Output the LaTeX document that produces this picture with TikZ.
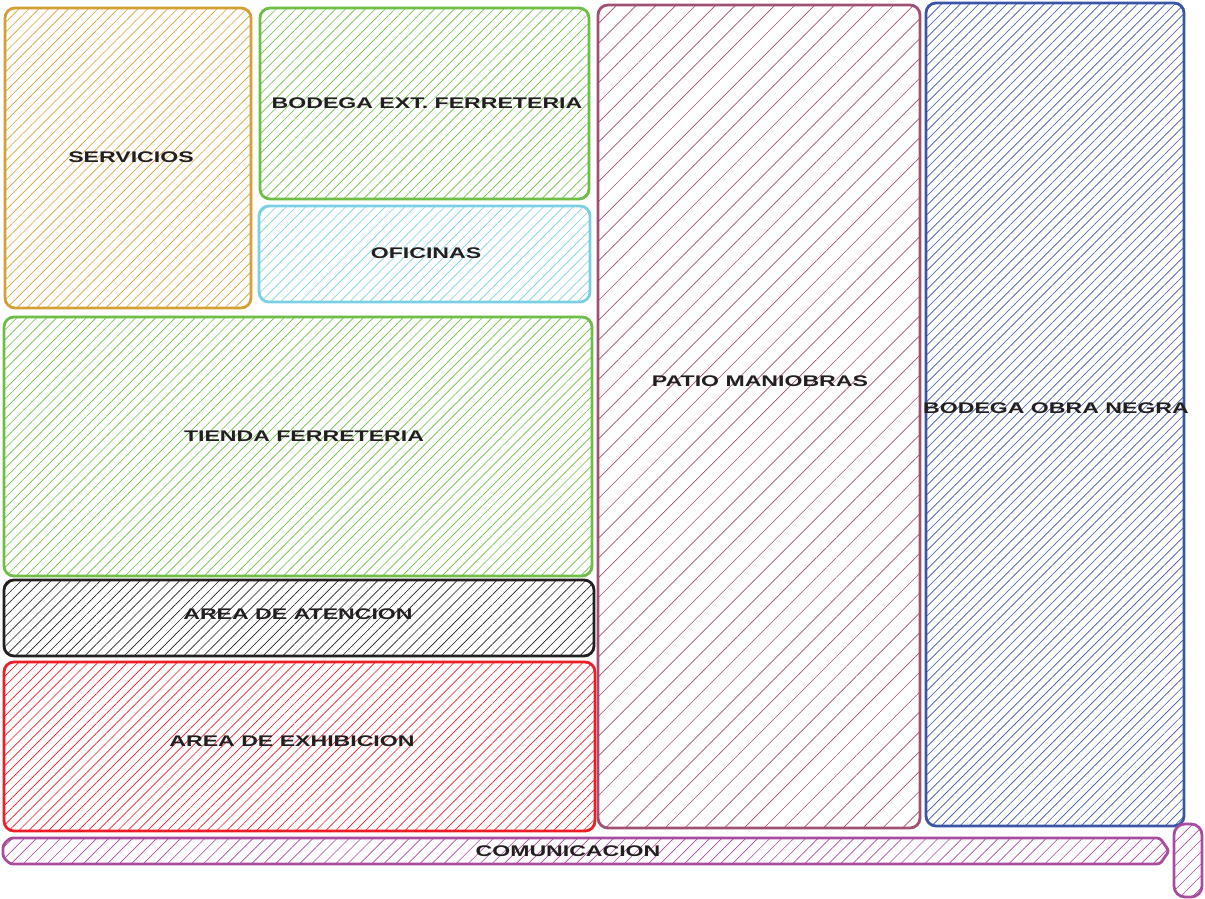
\documentclass[tikz,border=0pt]{standalone}
\usepackage{fontspec}
\setmainfont{Liberation Sans}
\usetikzlibrary{patterns.meta}
\definecolor{cgold}{RGB}{212,160,52}
\definecolor{cgreen}{RGB}{108,190,69}
\definecolor{ccyan}{RGB}{122,208,226}
\definecolor{cblack}{RGB}{35,31,32}
\definecolor{cred}{RGB}{237,30,38}
\definecolor{cmaroon}{RGB}{160,80,115}
\definecolor{cblue}{RGB}{58,85,165}
\definecolor{cpurple}{RGB}{168,76,160}
\tikzset{
  room/.style={draw=#1, line width=2.8pt, rounded corners=10pt, pattern color=#1, rectangle, inner sep=0pt, outer sep=0pt},
  hatch/.style={pattern={Lines[angle=45,distance=#1,line width=0.65pt]}},
  lbl/.style={font=\bfseries\fontsize{15.4}{16}\selectfont, text=cblack, xscale=1.5, inner sep=0pt}
}
\begin{document}
\begin{tikzpicture}[x=1pt,y=-1pt]
\useasboundingbox (0,0) rectangle (1205,899);
% rooms
\node[room=cgold, hatch=7pt, minimum width=246pt, minimum height=300pt] (serv) at (128,158) {};
\node[room=cgreen, hatch=7pt, minimum width=329pt, minimum height=191pt] (bext) at (424.5,103.5) {};
\node[room=ccyan, hatch=7pt, minimum width=331pt, minimum height=96pt] (ofi) at (424.5,254) {};
\node[room=cgreen, hatch=7pt, minimum width=588pt, minimum height=259pt] (tienda) at (298,446.5) {};
\node[room=cblack, hatch=7pt, minimum width=590pt, minimum height=76pt] (aten) at (299,618) {};
\node[room=cred, hatch=7pt, minimum width=591pt, minimum height=169pt] (exhib) at (299.5,746.5) {};
\node[room=cmaroon, hatch=14pt, minimum width=322pt, minimum height=823pt] (patio) at (759,416.5) {};
\node[room=cblue, hatch=6.6pt, minimum width=258pt, minimum height=823pt] (obra) at (1055,414.5) {};
\path[draw=cpurple, line width=2.8pt, pattern color=cpurple, hatch=8.5pt, rounded corners=3pt]
  (3,845) -- (10,838) -- (1160,838) -- (1169,851) -- (1160,864) -- (10,864) -- (3,857) -- cycle;
\coordinate (comm) at (568,851);
\node[room=cpurple, hatch=8.5pt, rounded corners=11pt, minimum width=28pt, minimum height=73pt] (vert) at (1188,860.5) {};
% labels
\node[lbl] (t1) at (131,157) {SERVICIOS};
\node[lbl] (t2) at (427,103) {BODEGA EXT. FERRETERIA};
\node[lbl] (t3) at (426,253) {OFICINAS};
\node[lbl] (t4) at (760,381) {PATIO MANIOBRAS};
\node[lbl] (t5) at (1056,408) {BODEGA OBRA NEGRA};
\node[lbl] (t6) at (304,436) {TIENDA FERRETERIA};
\node[lbl] (t7) at (298,614) {AREA DE ATENCION};
\node[lbl] (t8) at (292,741) {AREA DE EXHIBICION};
\node[lbl] (t9) at (comm) {COMUNICACION};
\end{tikzpicture}
\end{document}
